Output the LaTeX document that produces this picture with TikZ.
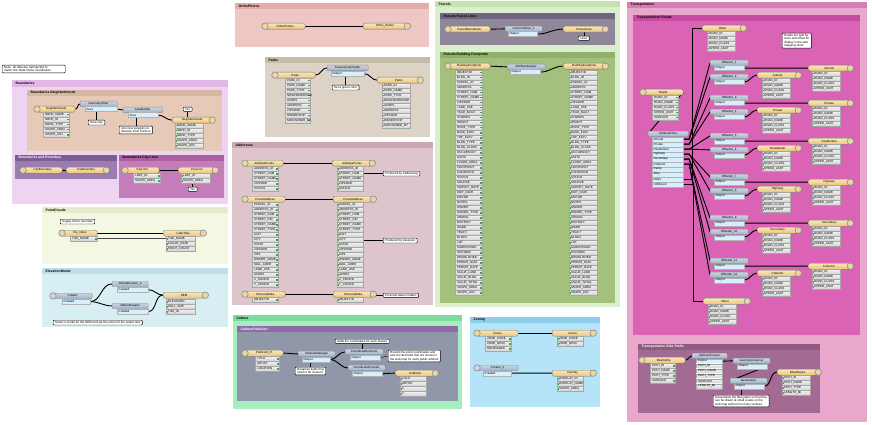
\documentclass[tikz,border=0pt]{standalone}
\usepackage{fontspec}
\setmainfont{Liberation Sans}
\usetikzlibrary{positioning,calc}
\pgfdeclarelayer{bg}
\pgfdeclarelayer{wires}
\pgfsetlayers{bg,wires,main}

\definecolor{bm_bound}{HTML}{EFD4F2}
\definecolor{bm_boundh}{HTML}{E3B6E8}
\definecolor{bm_nbr}{HTML}{E6C9B6}
\definecolor{bm_nbrh}{HTML}{D7B6A2}
\definecolor{bm_line}{HTML}{9C7DAF}
\definecolor{bm_lineh}{HTML}{7E5E92}
\definecolor{bm_city}{HTML}{C57DB9}
\definecolor{bm_cityh}{HTML}{AA5F9E}
\definecolor{bm_pc}{HTML}{F4F8E3}
\definecolor{bm_pch}{HTML}{E5ECCB}
\definecolor{bm_elev}{HTML}{D7EEF3}
\definecolor{bm_elevh}{HTML}{BDE0E9}
\definecolor{bm_ortho}{HTML}{EEC7C5}
\definecolor{bm_orthoh}{HTML}{E2ADAB}
\definecolor{bm_parks}{HTML}{DDD2C6}
\definecolor{bm_parksh}{HTML}{C9BBAB}
\definecolor{bm_addr}{HTML}{DEC5CB}
\definecolor{bm_addrh}{HTML}{CAA7B1}
\definecolor{bm_cult}{HTML}{A6EEC0}
\definecolor{bm_culth}{HTML}{7FDCA0}
\definecolor{bm_art}{HTML}{8F97A9}
\definecolor{bm_arth}{HTML}{8E6BA8}
\definecolor{bm_parc}{HTML}{DBEFCC}
\definecolor{bm_parch}{HTML}{C4E4AF}
\definecolor{bm_plin}{HTML}{8F8799}
\definecolor{bm_plinh}{HTML}{6F6781}
\definecolor{bm_foot}{HTML}{A3C17D}
\definecolor{bm_footh}{HTML}{8FB169}
\definecolor{bm_zone}{HTML}{B5E3F8}
\definecolor{bm_zoneh}{HTML}{8DCDEC}
\definecolor{bm_trans}{HTML}{E8A7CB}
\definecolor{bm_transh}{HTML}{D47FB3}
\definecolor{bm_road}{HTML}{DA63B5}
\definecolor{bm_roadh}{HTML}{C64BA1}
\definecolor{bm_bike}{HTML}{A36B93}
\definecolor{bm_bikeh}{HTML}{8D5B7F}
\definecolor{feat}{HTML}{EDC377}
\definecolor{feat_lt}{HTML}{F9E8BC}
\definecolor{iconfill}{HTML}{E9D6A4}
\definecolor{xform}{HTML}{9FB0C4}
\definecolor{xform_lt}{HTML}{CBD6E3}
\definecolor{portfill}{HTML}{D7EEFC}
\definecolor{portmark}{HTML}{3FA34D}

\newcommand{\footattrs}{OBJECTID, BLDG\_ID, PARCEL\_ID, ADDRESS, STREET\_NUM, STREET\_NAME, ZIPCODE, LAND\_USE, YEAR\_BUILT, STORIES, HEIGHT, ROOF\_TYPE, BASE\_ELEV, TOP\_ELEV, BLDG\_TYPE, BLDG\_CLASS, OCCUPANCY, UNITS, FLOOR\_AREA, FOOTPRINT, CONDITION, STATUS, SOURCE, SURVEY\_DATE, EDIT\_DATE, EDITOR, NOTES, OWNER, OWNER\_TYPE, ZONING, DISTRICT, WARD, TRACT, BLOCK, LOT, SUBDIVISION, HISTORIC, DEMOLISHED, PERMIT\_NUM, PERMIT\_DATE, VALUE\_LAND, VALUE\_BLDG, VALUE\_TOTAL, SHAPE\_AREA, SHAPE\_LEN}

\begin{document}
\begin{tikzpicture}[x = 1pt, y = -1pt,
		every node/.style = {font = \fontsize{3}{3.4}\selectfont},
		title_node/.style = {anchor = west, inner sep = .5pt, font = \fontsize{3.4}{3.8}\selectfont\bfseries},
		feat_node/.style = {rectangle, rounded corners = 1.6pt, draw = black!55, line width = .3pt, top color = feat_lt, bottom color = feat, minimum height = 6pt, inner sep = .4pt, anchor = north west},
		icon_node/.style = {circle, draw = black!45, line width = .6pt, fill = iconfill, minimum size = 6.5pt, inner sep = 0pt},
		xform_node/.style = {rectangle, rounded corners = .8pt, draw = black!45, line width = .3pt, top color = xform_lt, bottom color = xform, minimum height = 5.5pt, inner sep = .4pt, anchor = north west},
		port_node/.style = {rectangle, draw = black!30, line width = .2pt, fill = portfill, minimum height = 5pt, inner xsep = 1.5pt, inner ysep = .3pt, align = left, anchor = north west},
		attr_node/.style = {rectangle, draw = black!35, line width = .2pt, top color = black!4, bottom color = black!18, minimum height = 5pt, text width = 22pt, inner xsep = 2pt, inner ysep = .3pt, align = left, anchor = north west},
		attr_in/.style = {attr_node, path picture = {\fill[portmark] ([xshift = .4pt, yshift = -.9pt]path picture bounding box.west) rectangle ++(1.4pt,1.8pt);}},
		attr_out/.style = {attr_node, path picture = {\fill[portmark] ([xshift = -1.8pt, yshift = -.9pt]path picture bounding box.east) rectangle ++(1.4pt,1.8pt);}},
		note_node/.style = {rectangle, rounded corners = .8pt, draw = black, line width = .45pt, fill = white, inner xsep = 2pt, inner ysep = 1pt, align = left, anchor = north west},
		wire/.style = {line width = .9pt, black},
		thin_wire/.style = {line width = .35pt, black!70},
		tail/.style = {line width = .4pt, black},
		]

		\useasboundingbox (0,0) rectangle (872,425);

		\begin{pgfonlayer}{bg}
		\fill[white] (0,0) rectangle (872,425);
		%bookmarks
		\fill[bm_bound] (12,80) rectangle (228,204);
		\fill[bm_boundh] (12,80) rectangle (228,87);
		\fill[bm_nbr] (27,90) rectangle (222,151);
		\fill[bm_nbrh] (27,90) rectangle (222,96);
		\fill[bm_line] (15,155) rectangle (117,179);
		\fill[bm_lineh] (15,155) rectangle (117,161);
		\fill[bm_city] (119,155) rectangle (224,198);
		\fill[bm_cityh] (119,155) rectangle (224,161);
		\fill[bm_pc] (42,207) rectangle (228,264);
		\fill[bm_pch] (42,207) rectangle (228,213);
		\fill[bm_elev] (42,268) rectangle (228,327);
		\fill[bm_elevh] (42,268) rectangle (228,274);
		\fill[bm_ortho] (235,3) rectangle (429,47);
		\fill[bm_orthoh] (235,3) rectangle (429,9);
		\fill[bm_parks] (265,57) rectangle (430,137);
		\fill[bm_parksh] (265,57) rectangle (430,63);
		\fill[bm_addr] (232,142) rectangle (433,305);
		\fill[bm_addrh] (232,142) rectangle (433,148);
		\fill[bm_cult] (233,315) rectangle (462,409);
		\fill[bm_culth] (233,315) rectangle (462,321);
		\fill[bm_art] (237,326) rectangle (458,401);
		\fill[bm_arth] (237,326) rectangle (458,332);
		\fill[bm_parc] (435,1) rectangle (620,307);
		\fill[bm_parch] (435,1) rectangle (620,7);
		\fill[bm_plin] (440,13) rectangle (615,45);
		\fill[bm_plinh] (440,13) rectangle (615,19);
		\fill[bm_foot] (440,52) rectangle (615,303);
		\fill[bm_footh] (440,52) rectangle (615,58);
		\fill[bm_zone] (470,317) rectangle (600,407);
		\fill[bm_zoneh] (470,317) rectangle (600,323);
		\fill[bm_trans] (627,2) rectangle (867,422);
		\fill[bm_transh] (627,2) rectangle (867,8);
		\fill[bm_road] (633,15) rectangle (860,335);
		\fill[bm_roadh] (633,15) rectangle (860,21);
		\fill[bm_bike] (638,344) rectangle (820,413);
		\fill[bm_bikeh] (638,344) rectangle (820,350);
		\end{pgfonlayer}

		%note
		\node[note_node, text width = 59pt] (gen_n) at (2,65) {Note: all data are reprojected to\\match the State Plane coordinates};

		%boundaries
		\node[title_node] (bound_t) at (15,83.5) {Boundaries};
		\node[title_node] (nbr_t) at (30,93) {Boundaries Neighborhoods};
		\node[feat_node, minimum width = 38pt] (nbr_r) at (37,106) {Neighborhoods};
		\node[icon_node] (nbr_ri) at (nbr_r.west) {};
		\foreach \t [count = \i from 0] in {NBHD\_NAME, NBHD\_ID, NBHD\_TYPE, SHAPE\_AREA, SHAPE\_LEN}
			\node[attr_out] (nbr_ra\i) at (43,{112 + 5*\i}) {\t};
		\node[xform_node, minimum width = 37pt] (nbr_x1) at (80,101) {GeometryFilter};
		\node[port_node, text width = 29pt] (nbr_x1p) at (85,106.5) {Area};
		\node[note_node] (nbr_n1) at (88,120) {Area only};
		\node[xform_node, minimum width = 39pt] (nbr_x2) at (123,107) {AreaBuilder};
		\node[port_node, text width = 27pt] (nbr_x2p) at (128,112.5) {Area};
		\node[note_node] (nbr_n2) at (119,126) {Join new polygons to\\dissolve inner borders};
		\node[note_node] (nbr_n3) at (183,107) {Yes};
		\node[feat_node, minimum width = 40pt] (nbr_w) at (172,117) {Neighborhoods};
		\node[icon_node] (nbr_wi) at (nbr_w.east) {};
		\foreach \t [count = \i from 0] in {NBHD\_NAME, NBHD\_ID, NBHD\_TYPE, SHAPE\_AREA, SHAPE\_LEN}
			\node[attr_in, text width = 24pt] (nbr_wa\i) at (175,{123 + 5*\i}) {\t};

		\node[title_node, text = white] (line_t) at (18,158) {Boundaries and Boundary};
		\node[feat_node, minimum width = 39pt] (line_r) at (23,167) {CityBoundary};
		\node[icon_node] (line_ri) at (line_r.west) {};
		\node[feat_node, minimum width = 40pt] (line_w) at (66,167) {CityBoundary};
		\node[icon_node] (line_wi) at (line_w.east) {};

		\node[title_node] (city_t) at (122,158) {Boundaries City Limit};
		\node[feat_node, minimum width = 34pt] (city_r) at (125,167) {CityLimit};
		\node[icon_node] (city_ri) at (city_r.west) {};
		\foreach \t [count = \i from 0] in {LIMIT\_ID, SHAPE\_AREA}
			\node[attr_out, text width = 23pt] (city_ra\i) at (133,{173 + 5*\i}) {\t};
		\node[feat_node, minimum width = 37pt] (city_w) at (178,167) {CityLimit};
		\node[icon_node] (city_wi) at (city_w.east) {};
		\foreach \t [count = \i from 0] in {LIMIT\_ID, SHAPE\_AREA}
			\node[attr_in, text width = 25pt] (city_wa\i) at (181,{173 + 5*\i}) {\t};
		\node[note_node] (city_n) at (188,187) {Yes};

		%pointclouds
		\node[title_node] (pc_t) at (45,210) {PointClouds};
		\node[note_node] (pc_n) at (60,219) {Supply list for new tiles};
		\node[feat_node, minimum width = 35pt] (pc_r) at (62,230) {Tile\_Index};
		\node[icon_node] (pc_ri) at (pc_r.west) {};
		\node[attr_out, text width = 23pt] (pc_ra0) at (70,236) {TILE\_NAME};
		\node[feat_node, minimum width = 40pt] (pc_w) at (163,230) {LidarTiles};
		\node[icon_node] (pc_wi) at (pc_w.east) {};
		\foreach \t [count = \i from 0] in {TILE\_NAME, FLIGHT\_DATE, POINT\_COUNT}
			\node[attr_in, text width = 25pt] (pc_wa\i) at (166,{236 + 5*\i}) {\t};

		%elevation
		\node[title_node] (elev_t) at (45,271) {ElevationModel};
		\node[xform_node, minimum width = 39pt] (elev_c) at (53,293) {Creator};
		\node[icon_node, fill = xform_lt] (elev_ci) at (elev_c.west) {};
		\node[port_node, text width = 25pt] (elev_cp) at (62,299) {Created};
		\node[xform_node, minimum width = 36pt] (elev_x1) at (112,281) {2DGridCreator\_2};
		\node[port_node, text width = 28pt] (elev_x1p) at (117,287) {Created};
		\node[xform_node, minimum width = 36pt] (elev_x2) at (112,303) {2DGridCreator};
		\node[port_node, text width = 28pt] (elev_x2p) at (117,309) {Created};
		\node[feat_node, minimum width = 42pt] (elev_w) at (163,292) {DEM};
		\node[icon_node] (elev_wi) at (elev_w.east) {};
		\foreach \t [count = \i from 0] in {ELEVATION, CELL\_SIZE, TILE\_ID}
			\node[attr_in, text width = 25pt] (elev_wa\i) at (166,{299 + 5*\i}) {\t};
		\node[note_node] (elev_n) at (53,320) {Select a model for the DEM and set the extent of the output tiles};

		%orthophotos
		\node[title_node] (ortho_t) at (238,6) {OrthoPhotos};
		\node[feat_node, minimum width = 40pt] (ortho_r) at (265,23) {OrthoPhotos};
		\node[icon_node] (ortho_ri) at (ortho_r.west) {};
		\node[feat_node, minimum width = 44pt] (ortho_w) at (363,23) {Ortho\_Raster};
		\node[icon_node] (ortho_wi) at (ortho_w.east) {};

		%parks
		\node[title_node] (parks_t) at (268,60) {Parks};
		\node[feat_node, minimum width = 40pt] (parks_r) at (275,72) {Parks};
		\node[icon_node] (parks_ri) at (parks_r.west) {};
		\foreach \t [count = \i from 0] in {PARK\_ID, PARK\_NAME, PARK\_TYPE, NEIGHBORHOOD, ACRES, ADDRESS, ZIPCODE, OWNERSHIP, MAINTAINED\_BY}
			\node[attr_out, text width = 21pt] (parks_ra\i) at (285,{78 + 5*\i}) {\t};
		\node[xform_node, minimum width = 41pt] (parks_x) at (327,65) {FeatureColorSetter};
		\node[port_node, text width = 30pt] (parks_xp) at (331,71) {Output};
		\node[note_node] (parks_n) at (332,85) {Set a green color};
		\node[feat_node, minimum width = 43pt] (parks_w) at (377,77) {Parks};
		\node[icon_node] (parks_wi) at (parks_w.east) {};
		\foreach \t [count = \i from 0] in {PARK\_ID, PARK\_NAME, PARK\_TYPE, NEIGHBORHOOD, ACRES, ADDRESS, ZIPCODE, OWNERSHIP, MAINTAINED\_BY}
			\node[attr_in, text width = 24pt] (parks_wa\i) at (382,{83 + 5*\i}) {\t};

		%addresses
		\node[title_node] (addr_t) at (235,145) {Addresses};
		\node[feat_node, minimum width = 38pt] (addr_r1) at (245,160) {AddressPoints};
		\node[icon_node] (addr_r1i) at (addr_r1.west) {};
		\foreach \t [count = \i from 0] in {ADDRESS\_ID, STREET\_NUM, STREET\_NAME, ZIPCODE, STATUS}
			\node[attr_out] (addr_r1a\i) at (252,{166 + 5*\i}) {\t};
		\node[feat_node, minimum width = 40pt] (addr_w1) at (332,160) {AddressPoints};
		\node[icon_node] (addr_w1i) at (addr_w1.east) {};
		\foreach \t [count = \i from 0] in {ADDRESS\_ID, STREET\_NUM, STREET\_NAME, ZIPCODE, STATUS}
			\node[attr_in] (addr_w1a\i) at (337,{166 + 5*\i}) {\t};
		\node[note_node] (addr_n1) at (383,171) {Produced by Addressing};
		\node[feat_node, minimum width = 40pt] (addr_r2) at (245,196) {ParcelAddress};
		\node[icon_node] (addr_r2i) at (addr_r2.west) {};
		\foreach \t [count = \i from 0] in {PARCEL\_ID, ADDRESS\_ID, STREET\_NUM, STREET\_DIR, STREET\_NAME, STREET\_TYPE, UNIT, CITY, STATE, ZIPCODE, ZIP4, OWNER\_NAME, MAIL\_ADDR, LAND\_USE, ACRES, X\_COORD, Y\_COORD}
			\node[attr_out] (addr_r2a\i) at (252,{202 + 5*\i}) {\t};
		\node[feat_node, minimum width = 40pt] (addr_w2) at (333,196) {ParcelAddress};
		\node[icon_node] (addr_w2i) at (addr_w2.east) {};
		\foreach \t [count = \i from 0] in {PARCEL\_ID, ADDRESS\_ID, STREET\_NUM, STREET\_DIR, STREET\_NAME, STREET\_TYPE, UNIT, CITY, STATE, ZIPCODE, ZIP4, OWNER\_NAME, MAIL\_ADDR, LAND\_USE, ACRES, X\_COORD, Y\_COORD}
			\node[attr_in] (addr_w2a\i) at (337,{202 + 5*\i}) {\t};
		\node[note_node] (addr_n2) at (383,238) {Produced by Assessor};
		\node[feat_node, minimum width = 40pt] (addr_r3) at (245,291) {PersonalData};
		\node[icon_node] (addr_r3i) at (addr_r3.west) {};
		\node[attr_out] (addr_r3a0) at (252,297) {OBJECTID};
		\node[feat_node, minimum width = 40pt] (addr_w3) at (333,291) {PersonalData};
		\node[icon_node] (addr_w3i) at (addr_w3.east) {};
		\node[attr_in] (addr_w3a0) at (337,297) {OBJECTID};
		\node[note_node] (addr_n3) at (383,293) {Personal data is hidden};

		%culture
		\node[title_node] (cult_t) at (236,318) {Culture};
		\node[title_node, text = white] (art_t) at (240,329) {CulturePublicArt};
		\node[feat_node, minimum width = 38pt] (art_r) at (245,350) {PublicArt\_Pt};
		\node[icon_node] (art_ri) at (art_r.west) {};
		\foreach \t [count = \i from 0] in {TITLE, ARTIST, LOCATION}
			\node[attr_out, text width = 20pt] (art_ra\i) at (255,{356 + 5*\i}) {\t};
		\node[xform_node, minimum width = 37pt] (art_x1) at (298,351) {AttributeManager};
		\node[port_node, text width = 25pt] (art_x1p) at (302,357) {Output};
		\node[note_node] (art_n1) at (335,339) {Adds the coordinates for each feature};
		\node[xform_node, minimum width = 38pt] (art_x2) at (345,349) {CoordinateExtractor};
		\node[port_node, text width = 27pt] (art_x2p) at (350,355) {Output};
		\node[note_node] (art_n2) at (295,367) {Renames fields that\\need to be cleaned};
		\node[xform_node, minimum width = 37pt] (art_x3) at (348,365) {CoordinateRounder};
		\node[port_node, text width = 27pt] (art_x3p) at (352,371) {Output};
		\node[note_node] (art_n3) at (388,350) {Rounds the point coordinates and\\sets the decimals that are shown in\\the web map for each public artwork};
		\node[feat_node, minimum width = 40pt] (art_w) at (395,370) {PublicArt};
		\node[icon_node] (art_wi) at (art_w.east) {};
		\foreach \t [count = \i from 0] in {TITLE, ARTIST, X, Y}
			\node[attr_in] (art_wa\i) at (400,{376 + 5*\i}) {\t};

		%parcels
		\node[title_node] (parc_t) at (438,4) {Parcels};
		\node[title_node] (pl_t) at (443,16) {Parcels Parcel Lines};
		\node[feat_node, minimum width = 42pt] (pl_r) at (448,26) {ParcelBoundaries};
		\node[icon_node] (pl_ri) at (pl_r.west) {};
		\node[xform_node, minimum width = 37pt] (pl_x) at (505,26) {LineCombiner\_2};
		\node[port_node, text width = 26pt] (pl_xp) at (508,31.5) {Output};
		\node[feat_node, minimum width = 42pt] (pl_w) at (563,26) {ParcelLines};
		\node[icon_node] (pl_wi) at (pl_w.east) {};
		\node[note_node] (pl_n) at (578,36) {Lines};

		\node[title_node] (bf_t) at (443,55) {Parcels Building Footprints};
		\node[feat_node, minimum width = 42pt] (bf_r) at (448,63) {BuildingFootprints};
		\node[icon_node] (bf_ri) at (bf_r.west) {};
		\foreach \t [count = \i from 0] in \footattrs
			\node[attr_out, text width = 23pt] (bf_ra\i) at (455,{70 + 5*\i}) {\t};
		\node[xform_node, minimum width = 38pt] (bf_x) at (507,64) {AttributeKeeper};
		\node[port_node, text width = 27pt] (bf_xp) at (510,69.5) {Output};
		\node[feat_node, minimum width = 42pt] (bf_w) at (563,63) {BuildingFootprints};
		\node[icon_node] (bf_wi) at (bf_w.east) {};
		\foreach \t [count = \i from 0] in \footattrs
			\node[attr_in, text width = 24pt] (bf_wa\i) at (569,{70 + 5*\i}) {\t};

		%zoning
		\node[title_node] (zone_t) at (473,320) {Zoning};
		\node[feat_node, minimum width = 41pt] (zone_r) at (477,330) {Zones};
		\node[icon_node] (zone_ri) at (zone_r.west) {};
		\foreach \t [count = \i from 0] in {ZONE\_CODE, ZONE\_DESC, ORDINANCE}
			\node[attr_out] (zone_ra\i) at (485,{336 + 5*\i}) {\t};
		\node[feat_node, minimum width = 41pt] (zone_w) at (552,330) {Zones};
		\node[icon_node] (zone_wi) at (zone_w.east) {};
		\foreach \t [count = \i from 0] in {ZONE\_CODE, ZONE\_DESC}
			\node[attr_in] (zone_wa\i) at (557,{336 + 5*\i}) {\t};
		\node[xform_node, minimum width = 41pt] (zone_c) at (477,365) {Creator\_2};
		\node[icon_node, fill = xform_lt] (zone_ci) at (zone_c.west) {};
		\node[port_node, text width = 25pt] (zone_cp) at (483,370.5) {Created};
		\node[feat_node, minimum width = 41pt] (zone_w2) at (552,370) {Overlay};
		\node[icon_node] (zone_w2i) at (zone_w2.east) {};
		\foreach \t [count = \i from 0] in {OVERLAY\_ID, OVERLAY\_NAME, SHAPE\_AREA}
			\node[attr_in] (zone_w2a\i) at (557,{376 + 5*\i}) {\t};

		%transportation
		\node[title_node] (trans_t) at (630,5) {Transportation};
		\node[title_node] (road_t) at (636,18) {Transportation Roads};
		\node[feat_node, minimum width = 40pt] (road_r) at (643,89) {Roads};
		\node[icon_node] (road_ri) at (road_r.west) {};
		\foreach \t [count = \i from 0] in {ROAD\_ID, ROAD\_NAME, ROAD\_CLASS, SPEED\_LIMIT, SURFACE}
			\node[attr_out] (road_ra\i) at (652,{95 + 5*\i}) {\t};
		\node[xform_node, minimum width = 40pt] (road_f) at (648,131) {AttributeFilter};
		\foreach \t [count = \i from 0] in {Arterial, Private, Residential, Highway, Secondary, Collector, Ramp, Alley, Other, Unfiltered}
			\node[port_node, text width = 28pt] (road_fp\i) at (652,{136.5 + 5*\i}) {\t};
		\node[note_node] (road_n) at (782,33) {Roads are split by\\class and offset for\\display in the web\\mapping client};
		\node[feat_node, minimum width = 41pt] (road_o1) at (702,25) {Other};
		\node[icon_node] (road_o1i) at (road_o1.east) {};
		\foreach \t [count = \i from 0] in {ROAD\_ID, ROAD\_NAME, ROAD\_CLASS, SPEED\_LIMIT}
			\node[attr_in, text width = 24pt] (road_o1a\i) at (707,{31 + 5*\i}) {\t};
		\node[feat_node, minimum width = 44pt] (road_o2) at (703,298) {Other};
		\node[icon_node] (road_o2i) at (road_o2.east) {};
		\foreach \t [count = \i from 0] in {ROAD\_ID, ROAD\_NAME, ROAD\_CLASS, SPEED\_LIMIT}
			\node[attr_in, text width = 24pt] (road_o2a\i) at (708,{304 + 5*\i}) {\t};
		\foreach \nm/\b [count = \k from 0] in {Arterial/60, Private/95, Residential/133, Highway/174, Secondary/215, Collector/258} {
			\pgfmathtruncatemacro\na{2*\k + 1}
			\pgfmathtruncatemacro\nb{2*\k + 2}
			\node[xform_node, minimum width = 38pt] (road_ta\k) at (710,\b) {Offsetter\_\na};
			\node[port_node, text width = 27pt] (road_tap\k) at (714,\b + 5.5) {Output};
			\node[xform_node, minimum width = 38pt] (road_tb\k) at (710,\b + 14) {Offsetter\_\nb};
			\node[port_node, text width = 27pt] (road_tbp\k) at (714,\b + 19.5) {Output};
			\node[feat_node, minimum width = 41pt] (road_wm\k) at (757,\b + 12) {\nm};
			\node[icon_node] (road_wm\k i) at (road_wm\k.east) {};
			\foreach \t [count = \j from 0] in {ROAD\_ID, ROAD\_NAME, ROAD\_CLASS, SPEED\_LIMIT}
				\node[attr_in, text width = 24pt] (road_wm\k a\j) at (762,{\b + 18 + 5*\j}) {\t};
			\node[feat_node, minimum width = 42pt] (road_wr\k) at (808,\b + 5) {\nm};
			\node[icon_node] (road_wr\k i) at (road_wr\k.east) {};
			\foreach \t [count = \j from 0] in {ROAD\_ID, ROAD\_NAME, ROAD\_CLASS, SPEED\_LIMIT}
				\node[attr_in, text width = 24pt] (road_wr\k a\j) at (812,{\b + 11 + 5*\j}) {\t};
		}

		\node[title_node, text = white] (bike_t) at (641,347) {Transportation Bike Paths};
		\node[feat_node, minimum width = 43pt] (bike_r) at (642,357) {BikePaths};
		\node[icon_node] (bike_ri) at (bike_r.west) {};
		\foreach \t [count = \i from 0] in {PATH\_ID, PATH\_NAME, PATH\_TYPE, SURFACE}
			\node[attr_out, text width = 21pt] (bike_ra\i) at (650,{363 + 5*\i}) {\t};
		\node[xform_node, minimum width = 35pt] (bike_x1) at (692,353) {AttributeCreator};
		\node[port_node, text width = 23pt] (bike_x1p) at (696,358.5) {Output};
		\foreach \t [count = \i from 0] in {PATH\_ID, PATH\_NAME, PATH\_TYPE, SURFACE, LENGTH\_MI}
			\node[attr_node] (bike_x1a\i) at (696,{363.5 + 5*\i}) {\t};
		\node[xform_node, minimum width = 37pt] (bike_x2) at (733,358) {GeometryCoercer};
		\node[port_node, text width = 27pt] (bike_x2p) at (737,363.5) {Output};
		\node[xform_node, minimum width = 37pt] (bike_x3) at (730,378) {Generalizer};
		\node[port_node, text width = 27pt] (bike_x3p) at (734,383.5) {Output};
		\node[note_node] (bike_n) at (713,395) {Generalizes the bike paths so that they\\can be drawn at small scales on the\\web map without too many vertices};
		\node[feat_node, minimum width = 41pt] (bike_w) at (777,369) {BikeRoutes};
		\node[icon_node] (bike_wi) at (bike_w.east) {};
		\foreach \t [count = \i from 0] in {PATH\_ID, PATH\_NAME, PATH\_TYPE, LENGTH\_MI}
			\node[attr_in, text width = 24pt] (bike_wa\i) at (782,{375 + 5*\i}) {\t};

		\begin{pgfonlayer}{wires}
		%boundaries
		\draw[wire] (nbr_r.east) to[out = 0, in = 180] (nbr_x1.west);
		\draw[wire] (nbr_x1p.east) to[out = 0, in = 180] (nbr_x2.west);
		\draw[wire] (nbr_x2p.east) to[out = 0, in = 180] (nbr_w.west);
		\draw[tail] (nbr_n1.north) -- (nbr_n1.north |- nbr_x1p.south);
		\draw[tail] (nbr_n2.north) -- (nbr_n2.north |- nbr_x2p.south);
		\draw[tail] (nbr_n3.south) -- (nbr_n3.south |- nbr_w.north);
		\draw[wire] (line_r.east) -- (line_w.west);
		\draw[wire] (city_r.east) -- (city_w.west);
		\draw[tail] (city_n.north) -- (city_n.north |- city_wa1.south);
		%pointclouds
		\draw[wire] (pc_r.east) -- (pc_w.west);
		\draw[thin_wire] (pc_ra0.east) -- (pc_wa0.west);
		%elevation
		\draw[wire] (elev_cp.east) to[out = 0, in = 180] (elev_x1.west);
		\draw[wire] (elev_cp.east) to[out = 0, in = 180] (elev_x2.west);
		\draw[wire] (elev_x1p.east) to[out = 0, in = 180] (elev_w.west);
		\draw[wire] (elev_x2p.east) to[out = 0, in = 180] (elev_w.west);
		%orthophotos and parks
		\draw[wire] (ortho_r.east) -- (ortho_w.west);
		\draw[wire] (parks_r.east) to[out = 0, in = 180] (parks_x.west);
		\draw[wire] (parks_xp.east) to[out = 0, in = 180] (parks_w.west);
		\draw[tail] (parks_n.north) -- (parks_n.north |- parks_xp.south);
		%addresses
		\draw[wire] (addr_r1.east) -- (addr_w1.west);
		\draw[wire] (addr_r2.east) -- (addr_w2.west);
		\draw[wire] (addr_r3.east) -- (addr_w3.west);
		\draw[tail] (addr_n1.west) -- (addr_n1.west -| addr_w1a2.east);
		\draw[tail] (addr_n2.west) -- (addr_n2.west -| addr_w2a7.east);
		\draw[tail] (addr_n3.west) -- (addr_n3.west -| addr_w3.east);
		%culture
		\draw[wire] (art_r.east) to[out = 0, in = 180] (art_x1.west);
		\draw[wire] (art_x1p.east) to[out = 0, in = 180] (art_x2.west);
		\draw[wire] (art_x1p.east) to[out = 0, in = 180] (art_x3.west);
		\draw[wire] (art_x3p.east) to[out = 0, in = 180] (art_w.west);
		\draw[tail] (art_n1.south) -- (art_n1.south |- art_x2.north);
		\draw[tail] (art_n2.north) -- (art_n2.north |- art_x1p.south);
		\draw[tail] (art_n3.west) -- (art_x2p.east);
		%parcels
		\draw[wire] (pl_r.east) -- (pl_x.west);
		\draw[wire] (pl_xp.east) to[out = 0, in = 180] (pl_w.west);
		\draw[tail] (pl_n.north) -- (pl_n.north |- pl_w.south);
		\draw[wire] (bf_r.east) -- (bf_x.west);
		\draw[wire] (bf_xp.east) to[out = 0, in = 180] (bf_w.west);
		%zoning
		\draw[wire] (zone_r.east) -- (zone_w.west);
		\draw[wire] (zone_cp.east) to[out = 0, in = 180] (zone_w2.west);
		%transportation
		\draw[wire] (road_r.east) -- (road_f.west);
		\foreach \k in {0,...,5} {
			\draw[wire] (road_fp\k.east) -- ++(6,0) -- (road_ta\k.west);
			\draw[wire] (road_fp\k.east) -- ++(6,0) -- (road_tb\k.west);
			\draw[wire] (road_tap\k.east) -- (road_wr\k.west);
			\draw[wire] (road_tbp\k.east) to[out = 0, in = 180] (road_wm\k.west);
		}
		\draw[wire] (road_fp8.east) -- ++(9,0) |- (road_o1.west);
		\draw[wire] (road_fp9.east) -- ++(10,0) |- (road_o2.west);
		\draw[wire] (bike_r.east) to[out = 0, in = 180] (bike_x1.west);
		\draw[wire] (bike_x1p.east) to[out = 0, in = 180] (bike_x2.west);
		\draw[wire] (bike_x2p.east) -- (bike_x3.west);
		\draw[wire] (bike_x3p.east) to[out = 0, in = 180] (bike_w.west);
		\draw[tail] (bike_n.north) -- (bike_n.north |- bike_x3p.south);
		\end{pgfonlayer}

\end{tikzpicture}
\end{document}
